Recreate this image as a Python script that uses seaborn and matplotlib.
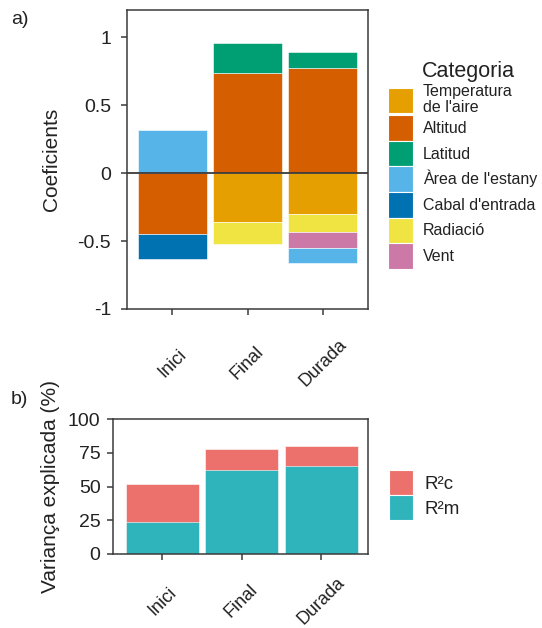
import matplotlib
matplotlib.use("Agg")
import matplotlib.pyplot as plt
import seaborn as sns
import pandas as pd
import numpy as np
from matplotlib.patches import Patch

sns.set_theme(style="white")
plt.rcParams['font.family'] = ['Liberation Sans', 'DejaVu Sans']
plt.rcParams['axes.unicode_minus'] = False

# ---------------- data ----------------
periods = ["Inici", "Final", "Durada"]

legend_labels = ["Temperatura\nde l'aire", "Altitud", "Latitud", "Àrea de l'estany",
                 "Cabal d'entrada", "Radiació", "Vent"]
temperatura = [0.0, -0.36, -0.30]
altitud = [-0.45, 0.74, 0.77]
latitud = [0.0, 0.22, 0.12]
area = [0.32, 0.0, -0.11]
cabal = [-0.18, 0.0, 0.0]
radiacio = [0.0, -0.16, -0.13]
vent = [0.0, 0.0, -0.12]
cat_colors = ["#E69F00", "#D55E00", "#009E73", "#56B4E9", "#0072B2", "#F0E442", "#CC79A7"]

yticks_a = [-1, -0.5, 0, 0.5, 1]
yticklabels_a = ["-1", "-0.5", "0", "0.5", "1"]

r2c = [52.0, 78.0, 80.0]
r2m = [24.0, 62.3, 65.0]
r2_labels = ["R²c", "R²m"]
r2_colors = ["#EC716C", "#30B4BC"]
yticks_b = [0, 25, 50, 75, 100]

# category value lookup (legend order)
cat_values = dict(zip(legend_labels, [temperatura, altitud, latitud, area, cabal, radiacio, vent]))
cat_color = dict(zip(legend_labels, cat_colors))
# stacking order (from zero outward)
stack_order = ["Temperatura\nde l'aire", "Altitud", "Latitud", "Cabal d'entrada",
               "Radiació", "Vent", "Àrea de l'estany"]

W, H = 542, 628
fig = plt.figure(figsize=(W / 100, H / 100), dpi=100)
ax1 = fig.add_axes([127 / W, 1 - 309 / H, (368 - 127) / W, (309 - 10) / H])
ax2 = fig.add_axes([113 / W, 1 - 554 / H, (368 - 113) / W, (554 - 419) / H])

spine_col = "#3a3a3a"
text_col = "#222222"

# ---------------- panel a ----------------
bottom_pos = np.zeros(len(periods))
bottom_neg = np.zeros(len(periods))
for cat in stack_order:
    vals = np.array(cat_values[cat], dtype=float)
    for part, base in ((np.clip(vals, 0, None), bottom_pos), (np.clip(vals, None, 0), bottom_neg)):
        mask = part != 0
        if mask.any():
            df = pd.DataFrame({"Període": np.array(periods)[mask], "Coef": part[mask]})
            sns.barplot(data=df, x="Període", y="Coef", order=periods, color=cat_color[cat],
                        saturation=1, width=0.92, errorbar=None, bottom=base[mask].copy(),
                        edgecolor="white", linewidth=0.4, ax=ax1)
        base += part

ax1.axhline(0, color=spine_col, lw=1.3, zorder=5)
ax1.set_xlim(-0.6, 2.6)
ax1.set_ylim(-1.0, 1.2)
ax1.set_yticks(yticks_a)
ax1.set_yticklabels(yticklabels_a)
ax1.set_xlabel("")
ax1.set_ylabel("Coeficients", fontsize=15, color=text_col)
ax1.yaxis.set_label_coords(-0.315, 0.5)
ax1.yaxis.label.set_va("center")
ax1.tick_params(axis="y", left=True, length=4, width=1.1, color=spine_col,
                labelsize=14, labelcolor=text_col, pad=7.5)
ax1.tick_params(axis="x", bottom=True, length=4, width=1.1, color=spine_col,
                labelsize=13, labelcolor=text_col, pad=35)
for lab in ax1.get_xticklabels():
    lab.set_rotation(45)
    lab.set_ha("center")
    lab.set_va("center")

# ---------------- panel b ----------------
df_c = pd.DataFrame({"Període": periods, "Var": r2c})
df_m = pd.DataFrame({"Període": periods, "Var": r2m})
sns.barplot(data=df_c, x="Període", y="Var", order=periods, color=r2_colors[0], saturation=1,
            width=0.92, errorbar=None, edgecolor="white", linewidth=0.4, ax=ax2)
sns.barplot(data=df_m, x="Període", y="Var", order=periods, color=r2_colors[1], saturation=1,
            width=0.92, errorbar=None, edgecolor="white", linewidth=0.4, ax=ax2)
ax2.set_xlim(-0.62, 2.59)
ax2.set_ylim(0, 100)
ax2.set_yticks(yticks_b)
ax2.set_xlabel("")
ax2.set_ylabel("Variança explicada (%)", fontsize=15, color=text_col)
ax2.yaxis.set_label_coords(-0.245, 0.5)
ax2.yaxis.label.set_va("center")
ax2.tick_params(axis="y", left=True, length=4, width=1.1, color=spine_col,
                labelsize=14, labelcolor=text_col, pad=5)
ax2.tick_params(axis="x", bottom=True, length=4, width=1.1, color=spine_col,
                labelsize=13, labelcolor=text_col, pad=30)
for lab in ax2.get_xticklabels():
    lab.set_rotation(45)
    lab.set_ha("center")
    lab.set_va("center")

for ax in (ax1, ax2):
    for sp in ax.spines.values():
        sp.set_visible(True)
        sp.set_color(spine_col)
        sp.set_linewidth(1.1)
        sp.set_zorder(6)


def handle_height(row_px, fs):
    # legend row height (pt) = fs * (0.65 * hh + 0.245)
    row_pt = row_px * 72 / 100
    return (row_pt / fs - 0.245) / 0.65


# ---------------- legends ----------------
fs1 = 11.5
px1 = fs1 / 72 * 100
handles1 = [Patch(facecolor=c, edgecolor="white", linewidth=0.8, label=l)
            for l, c in zip(legend_labels, cat_colors)]
leg1 = fig.legend(handles=handles1, loc="upper left", bbox_to_anchor=(388 / W, 1 - 84 / H),
                  bbox_transform=fig.transFigure, frameon=False, borderpad=0, borderaxespad=0,
                  fontsize=fs1, handlelength=25 / px1, handleheight=handle_height(25.6, fs1),
                  handletextpad=0.6, labelspacing=0)
for t in leg1.get_texts():
    t.set_color(text_col)
    t.set_linespacing(1.1)
fig.text(422 / W, 1 - 77 / H, "Categoria", fontsize=15.5, ha="left", va="baseline", color=text_col)

fs2 = 13.5
px2 = fs2 / 72 * 100
handles2 = [Patch(facecolor=c, edgecolor="white", linewidth=0.8, label=l)
            for l, c in zip(r2_labels, r2_colors)]
leg2 = fig.legend(handles=handles2, loc="upper left", bbox_to_anchor=(389 / W, 1 - 470 / H),
                  bbox_transform=fig.transFigure, frameon=False, borderpad=0, borderaxespad=0,
                  fontsize=fs2, handlelength=24 / px2, handleheight=handle_height(25, fs2),
                  handletextpad=0.64, labelspacing=0)
for t in leg2.get_texts():
    t.set_color(text_col)

fig.text(11 / W, 1 - 19 / H, "a)", fontsize=14, ha="left", va="center", color=text_col)
fig.text(11 / W, 1 - 400 / H, "b)", fontsize=14, ha="left", va="center", color=text_col)

fig.savefig("out.png", dpi=100)
